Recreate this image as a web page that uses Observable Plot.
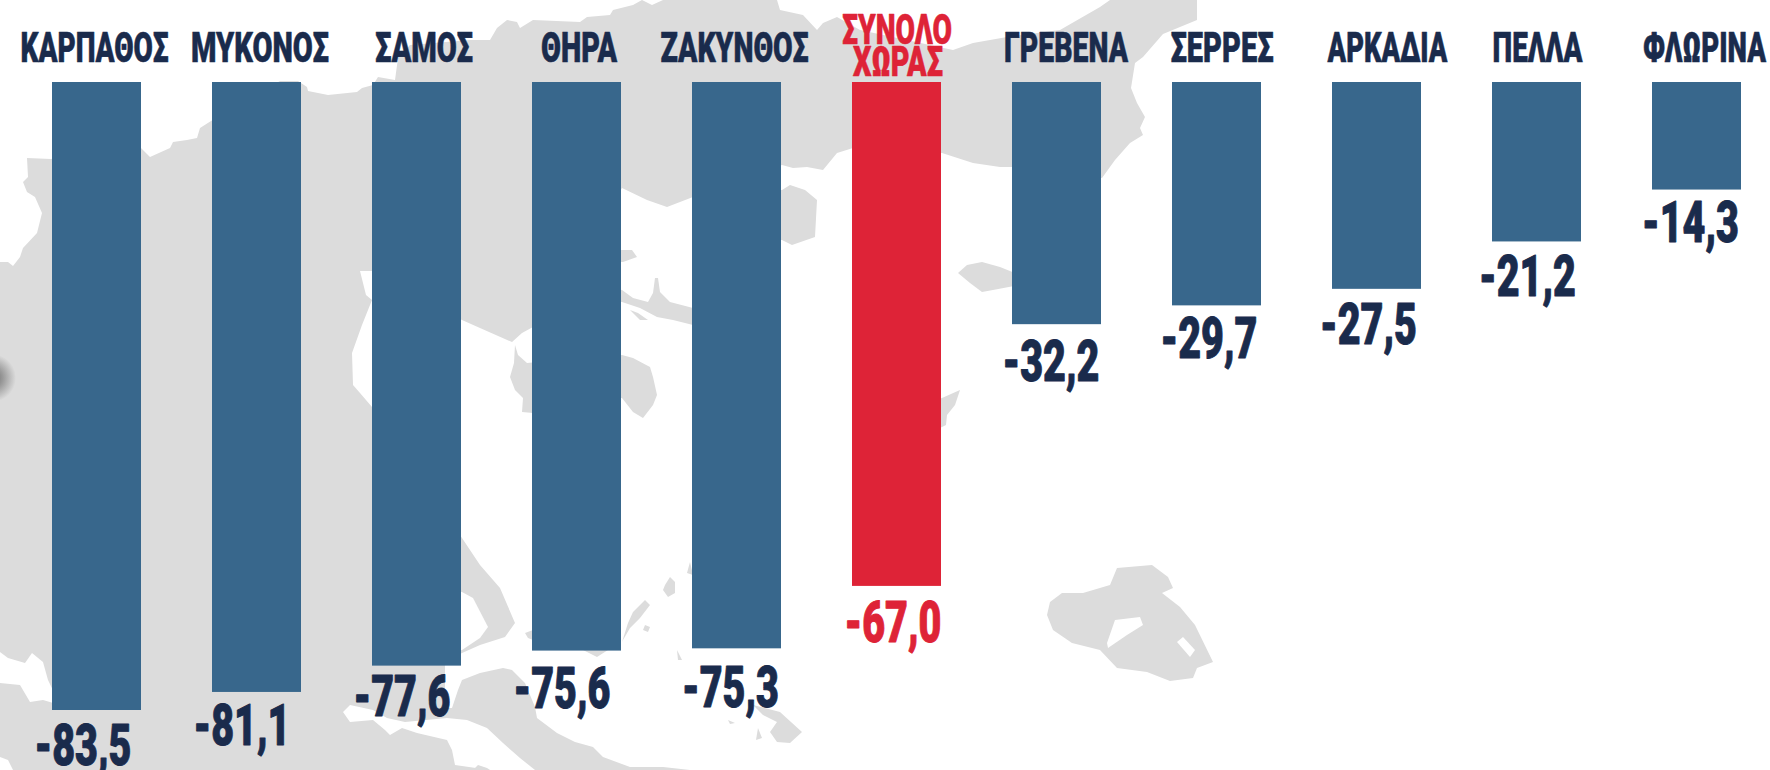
<!DOCTYPE html>
<html lang="el">
<head>
<meta charset="utf-8">
<title>Περιοχές</title>
<style>
html,body{margin:0;padding:0;background:#fff;}
svg{display:block;}
</style>
<script src="https://cdn.jsdelivr.net/npm/d3@7"></script>
<script src="https://cdn.jsdelivr.net/npm/@observablehq/plot@0.6"></script>
</head>
<body>
<div id="chart"></div>
<script>
// ---- chart data ----
const categories = ["ΚΑΡΠΑΘΟΣ","ΜΥΚΟΝΟΣ","ΣΑΜΟΣ","ΘΗΡΑ","ΖΑΚΥΝΘΟΣ","ΣΥΝΟΛΟ ΧΩΡΑΣ","ΓΡΕΒΕΝΑ","ΣΕΡΡΕΣ","ΑΡΚΑΔΙΑ","ΠΕΛΛΑ","ΦΛΩΡΙΝΑ"];
const values = [-83.5,-81.1,-77.6,-75.6,-75.3,-67.0,-32.2,-29.7,-27.5,-21.2,-14.3];
const totalCategory = "ΣΥΝΟΛΟ ΧΩΡΑΣ";

// ---- label fine-tuning (text box widths and nudges, separate from the data) ----
const nameWidths  = [148,138,98,76,148,0,124,103,120,90,123];
const nameDx      = [-2.5,3,7,2,-2.5,0,9,5,10.5,0.5,7.5];
const valueDx     = [-14,-15,-15,-15,-6.5,-4,-6,-8,-8.5,-9.5,-6.5];
const valueDy     = [54,53,50,57,58,56,56,52,55,54,52];

// ---- decorative background map outlines (traced, page pixels) ----
const landShapes = [
 [[0,262],[8,262],[13,266],[20,257],[23,248],[37,233],[42,213],[35,197],[27,192],[23,182],[28,177],[27,158],[51,159],[140,147],[150,157],[170,148],[173,142],[187,140],[197,138],[200,128],[211,121],[280,81],[298,81],[307,87],[308,91],[328,95],[357,92],[362,88],[373,85],[378,77],[395,80],[398,58],[410,45],[470,40],[490,40],[497,28],[507,20],[517,22],[520,28],[533,20],[580,22],[587,17],[610,15],[613,10],[633,5],[642,0],[652,5],[663,0],[777,0],[780,10],[803,15],[817,30],[823,23],[837,17],[860,30],[953,50],[973,43],[1007,37],[1060,30],[1100,7],[1110,0],[1197,0],[1197,20],[1163,34],[1143,57],[1135,63],[1131,88],[1137,103],[1145,117],[1140,128],[1143,135],[1130,143],[1115,160],[1102,178],[1013,167],[1000,167],[973,163],[942,153],[853,148],[837,153],[823,170],[807,167],[793,168],[782,165],[693,197],[667,207],[647,200],[622,188],[533,327],[522,333],[512,342],[480,328],[462,320],[372,271],[360,271],[366,295],[372,300],[362,325],[352,353],[353,385],[360,393],[372,407],[462,538],[480,565],[500,588],[515,623],[505,637],[480,645],[462,653],[445,663],[445,708],[452,708],[458,690],[462,680],[480,673],[503,668],[512,670],[525,683],[535,707],[537,718],[557,733],[575,742],[593,747],[603,757],[630,767],[663,767],[690,770],[0,770]],
 [[515,345],[518,355],[527,363],[560,360],[622,355],[633,358],[650,367],[653,377],[657,395],[653,405],[643,418],[633,412],[622,398],[560,400],[533,413],[522,412],[523,398],[515,390],[510,377],[514,363]],
 [[765,190],[782,190],[790,185],[805,190],[817,200],[815,237],[792,245],[782,240],[765,240]],
 [[610,250],[632,250],[637,257],[623,262],[610,262]],
 [[600,285],[622,290],[633,298],[648,302],[653,293],[655,278],[658,278],[660,292],[670,302],[693,308],[720,315],[720,330],[693,325],[673,320],[657,317],[640,308],[622,302],[600,300]],
 [[630,310],[638,313],[648,320],[640,320]],
 [[958,273],[967,265],[982,262],[1000,267],[1020,275],[1020,285],[993,290],[982,292],[970,283]],
 [[935,400],[942,398],[960,390],[955,405],[947,415],[946,425],[942,427],[935,430]],
 [[1047,615],[1050,602],[1062,593],[1083,593],[1110,585],[1117,568],[1152,565],[1168,577],[1173,588],[1162,593],[1180,607],[1195,625],[1213,662],[1197,668],[1193,678],[1170,681],[1147,672],[1117,668],[1100,650],[1072,643],[1053,630]],
 [[665,585],[670,577],[675,582],[675,593],[668,597],[663,590]],
 [[645,600],[650,605],[640,618],[630,628],[623,640],[622,642],[628,623],[633,612]],
 [[645,625],[650,627],[648,632],[643,630]],
 [[690,562],[693,575],[687,573]],
 [[677,650],[682,660],[678,660]],
 [[525,633],[533,630],[533,640],[528,638]],
 [[583,650],[608,650],[597,657]],
 [[753,705],[780,712],[802,732],[790,743],[777,742],[770,732],[777,722],[763,715]],
 [[728,720],[735,723],[730,724]],
 [[758,728],[762,738],[756,740]]
];
const seaShapes = [
 [[450,590],[462,592],[473,598],[488,627],[480,638],[462,650],[450,652]],
 [[0,652],[8,658],[25,663],[32,653],[43,662],[48,680],[60,705],[43,700],[30,702],[20,685],[0,683]],
 [[0,757],[8,760],[13,770],[0,770]],
 [[343,712],[350,705],[373,710],[387,718],[405,722],[447,718],[467,720],[487,728],[503,743],[520,758],[535,770],[490,770],[455,765],[452,750],[447,740],[417,733],[402,728],[390,735],[385,730],[373,720],[350,722]],
 [[1107,643],[1115,620],[1140,617],[1143,625],[1127,635],[1108,648]],
 [[1177,642],[1183,637],[1195,650],[1190,657]]
];
const islandsOverSea = [
 [[478,765],[487,768],[490,770],[473,770]]
];

// ---- chart ----
const rows = categories.map((category,i)=>({category,value:values[i]}));
const navy="#1a2b4c", red="#de2337", blue="#38678c", land="#dcdcdc";

const mapLayer = () => {
  const g = d3.create("svg:g").attr("aria-label","map");
  const line = d3.line();
  const defs = g.append("defs").append("radialGradient").attr("id","spot");
  defs.append("stop").attr("offset","0").attr("stop-color","#6a6a6a");
  defs.append("stop").attr("offset","0.45").attr("stop-color","#9a9a9a");
  defs.append("stop").attr("offset","1").attr("stop-color",land);
  const paint=(list,fill)=>list.forEach(p=>g.append("path").attr("d",line(p)+"Z").attr("fill",fill));
  paint(landShapes,land);
  paint(seaShapes,"#fff");
  paint(islandsOverSea,land);
  g.append("circle").attr("cx",-8).attr("cy",378).attr("r",24).attr("fill","url(#spot)");
  return g.node();
};

// one text mark for one label; its target width is noted so the condensed squeeze can follow
const label = (row,text,{dx=0,dy=0,size,width,fill,bold})=>Plot.text([row],{
  x:"category", y:d=>d.labelY===0?0:d.value, text:()=>text, dx, dy,
  fill, stroke:fill, strokeWidth:bold, fontSize:size, fontWeight:900, fontFamily:"Roboto, 'Liberation Sans', sans-serif",
  lineAnchor:"bottom", textAnchor:"middle",
  render(index,scales,vals,dim,ctx,next){
    const node=next(index,scales,vals,dim,ctx);
    d3.select(node).selectAll("text").attr("data-width",width);
    return node;
  }
});

const marks=[
  mapLayer,
  Plot.barY(rows,{x:"category",y:"value",fill:d=>d.category===totalCategory?red:blue}),
];
rows.forEach((row,i)=>{
  const isTotal=row.category===totalCategory;
  const color=isTotal?red:navy;
  const head={...row,labelY:0};
  if(isTotal){
    marks.push(label(head,"ΣΥΝΟΛΟ",{dy:-39,size:42,width:110,fill:color,dx:0,bold:0.6}));
    marks.push(label(head,"ΧΩΡΑΣ",{dy:-7,size:42,width:90,fill:color,dx:1,bold:0.6}));
  } else {
    marks.push(label(head,row.category,{dy:-21,size:42,width:nameWidths[i],fill:color,dx:nameDx[i],bold:0.6}));
  }
  marks.push(label(row,row.value.toFixed(1).replace(".",","),{dy:valueDy[i],dx:valueDx[i],size:58,width:97,fill:color,bold:1}));
});

const chart=Plot.plot({
  width:1770,height:770,
  marginTop:0,marginRight:0,marginBottom:0,marginLeft:0,
  style:{background:"#fff"},
  x:{domain:categories,range:[51,1742],paddingInner:0.444,paddingOuter:0,axis:null},
  y:{domain:[0,-83.5],range:[82,710],axis:null},
  marks
});
document.getElementById("chart").appendChild(chart);
// squeeze each label horizontally to its condensed width
chart.querySelectorAll("text[data-width]").forEach(t=>{
  const k=+t.getAttribute("data-width")/t.getComputedTextLength();
  t.setAttribute("transform",(t.getAttribute("transform")||"")+` scale(${k},1)`);
});
</script>
</body>
</html>
